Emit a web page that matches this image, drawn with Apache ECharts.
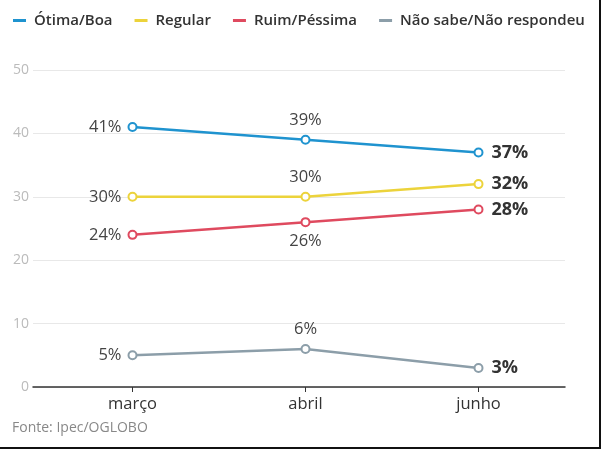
<!DOCTYPE html>
<html>
<head>
<meta charset="utf-8">
<script src="https://cdn.jsdelivr.net/npm/echarts@6/dist/echarts.min.js"></script>
<style>
  html, body { margin: 0; padding: 0; background: #fff; }
  #main { width: 601px; height: 449px; position: relative; }
  #frame { position: absolute; left: 0; top: 0; width: 599px; height: 447px;
           border-right: 2px solid #111; border-bottom: 2px solid #111; pointer-events: none; }
</style>
</head>
<body>
<div id="main"></div>
<div id="frame"></div>
<script>
// pesquisa Ipec - avaliação
var months = ["março", "abril", "junho"];
var otimaBoa = [41, 39, 37];
var regular = [30, 30, 32];
var ruimPessima = [24, 26, 28];
var naoSabe = [5, 6, 3];
var yTicks = [0, 10, 20, 30, 40, 50];

var chart = echarts.init(document.getElementById("main"));
var FONT = "Open Sans";

// where each label goes (first two points), last one is always bold on the right
function points(values, pos) {
  return values.map(function (v, i) {
    var last = i === values.length - 1;
    return {
      value: v,
      label: last
        ? { position: "right", distance: 8, fontSize: 18, fontWeight: "bold", color: "#333" }
        : { position: pos[i], distance: 6, fontSize: 16.5, color: "#444" }
    };
  });
}

function line(name, values, color, pos) {
  return {
    name: name,
    type: "line",
    xAxisIndex: 1,
    yAxisIndex: 1,
    data: points(values, pos),
    symbol: "emptyCircle",
    symbolSize: 8,
    lineStyle: { color: color, width: 2.5 },
    itemStyle: { color: color, borderWidth: 2 },
    label: { show: true, fontFamily: FONT, formatter: "{c}%" },
    animation: false
  };
}

var option = {
  backgroundColor: "#fff",
  textStyle: { fontFamily: FONT },
  legend: {
    left: 8,
    top: 8,
    itemWidth: 13,
    itemHeight: 3,
    itemGap: 22,
    icon: "rect",
    textStyle: { fontFamily: FONT, fontSize: 15, fontWeight: 600, color: "#333", padding: [0, 0, 0, 3] },
    data: ["Ótima/Boa", "Regular", "Ruim/Péssima", "Não sabe/Não respondeu"]
  },
  graphic: [{
    type: "text",
    left: 12,
    top: 421,
    style: { text: "Fonte: Ipec/OGLOBO", fill: "#888", font: "14px 'Open Sans'" }
  }],
  grid: [
    { left: 33, right: 36, top: 70, bottom: 62 },
    { left: 46, right: 36, top: 70, bottom: 62 }
  ],
  xAxis: [
    {
      type: "category", gridIndex: 0, data: months,
      axisLine: { lineStyle: { color: "#333", width: 1.5 } },
      axisTick: { show: false }, axisLabel: { show: false }
    },
    {
      type: "category", gridIndex: 1, data: months,
      axisLine: { show: false },
      axisTick: { show: true, alignWithLabel: true, length: 5, lineStyle: { color: "#333" } },
      axisLabel: { fontFamily: FONT, fontSize: 16.5, color: "#333", margin: 9 }
    }
  ],
  yAxis: [
    {
      type: "value", gridIndex: 0, min: 0, max: 50, interval: 10,
      axisLine: { show: false }, axisTick: { show: false },
      axisLabel: {
        fontFamily: FONT, fontSize: 14, color: "#bbb", margin: 4,
        formatter: function (v) { return yTicks.indexOf(v) >= 0 ? String(v) : ""; }
      },
      splitLine: { lineStyle: { color: "#e8e8e8" } }
    },
    {
      type: "value", gridIndex: 1, min: 0, max: 50, interval: 10, show: false
    }
  ],
  series: [
    line("Ótima/Boa", otimaBoa, "#1f93cf", ["left", "top"]),
    line("Regular", regular, "#ecd33b", ["left", "top"]),
    line("Ruim/Péssima", ruimPessima, "#df4a5f", ["left", "bottom"]),
    line("Não sabe/Não respondeu", naoSabe, "#8c9ea9", ["left", "top"])
  ]
};

chart.setOption(option);
</script>
</body>
</html>
